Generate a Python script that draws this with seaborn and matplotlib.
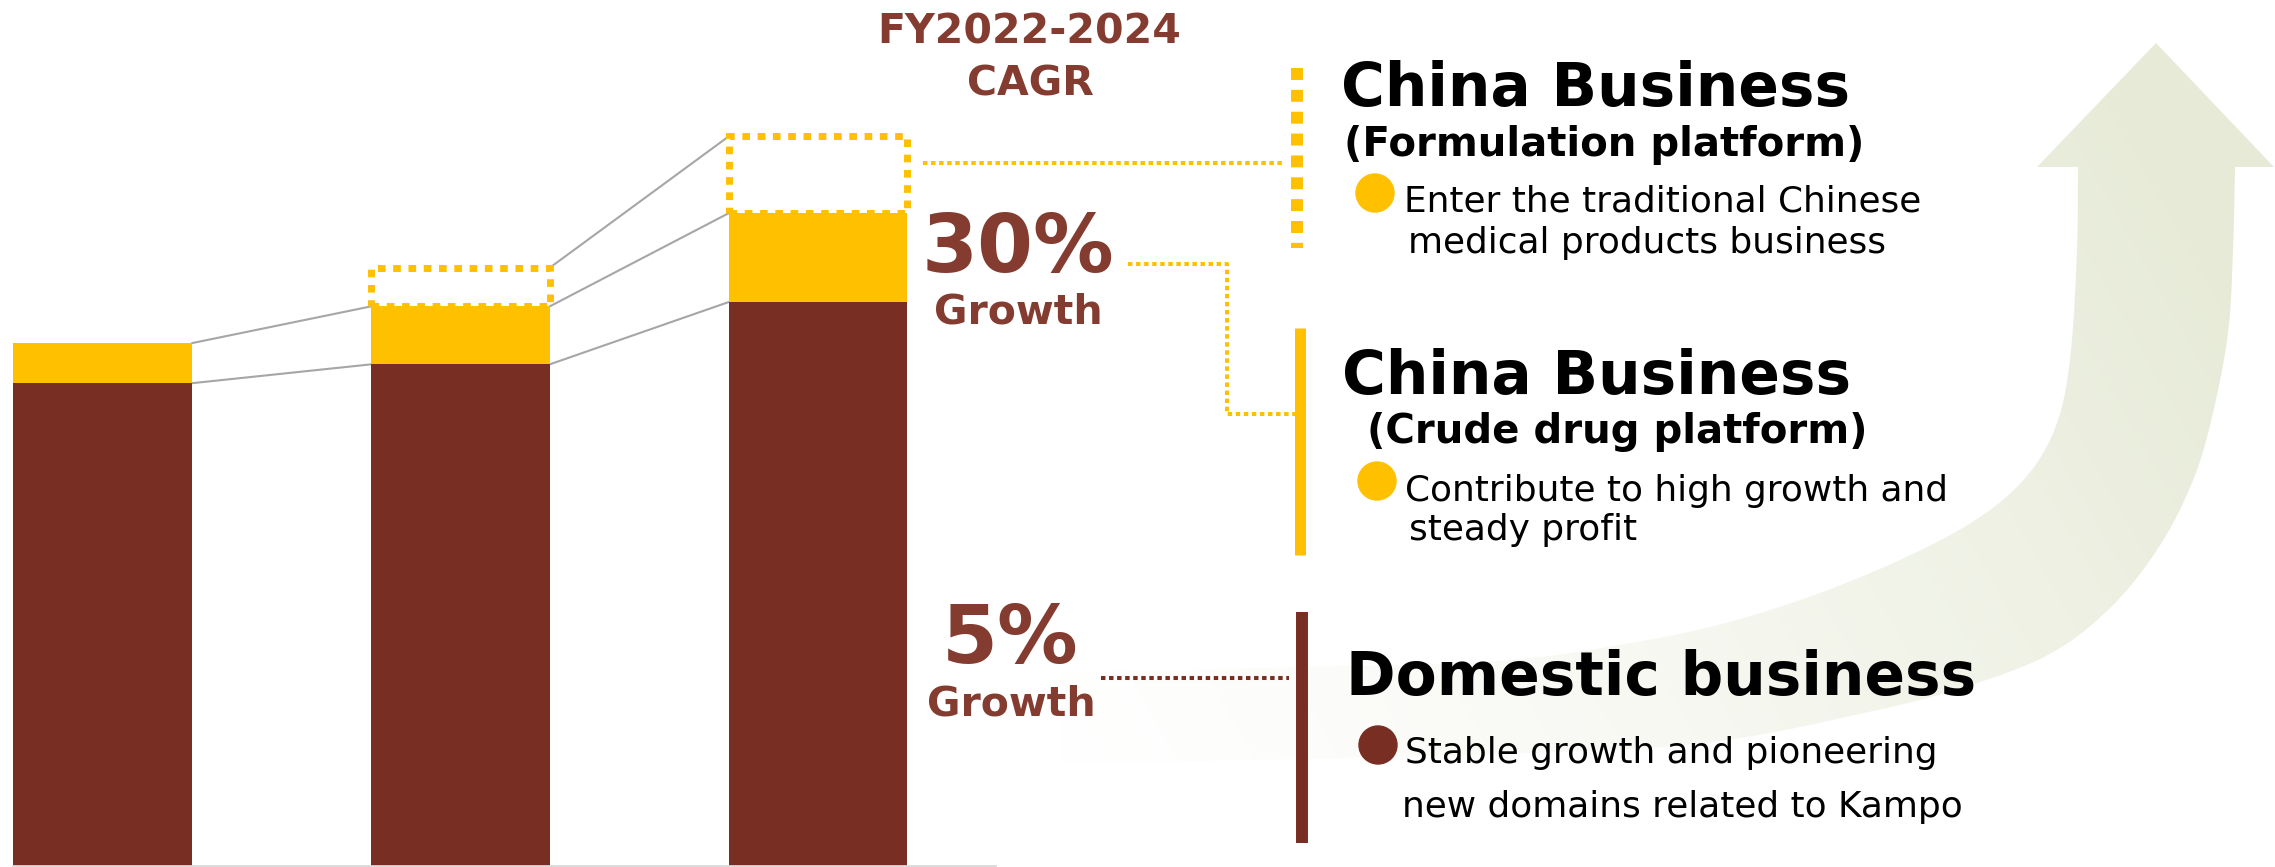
import numpy as np
import matplotlib
matplotlib.use("Agg")
import matplotlib.pyplot as plt
import seaborn as sns
from matplotlib.patches import Polygon, Circle

# ---- data -------------------------------------------------------------
years = ["FY2022", "FY2023", "FY2024"]
domestic = [100.0, 103.9, 116.8]          # domestic business
crude_drug = [8.3, 12.0, 18.4]            # China business, crude drug platform
formulation = [0.0, 8.0, 15.9]            # China business, formulation platform (planned)

cagr_title = ["FY2022-2024", "CAGR"]
cagr_china = "30%"
cagr_domestic = "5%"
growth_word = "Growth"

china_form_title = ["China Business", "(Formulation platform)"]
china_form_text = ["Enter the traditional Chinese", "medical products business"]
china_crude_title = ["China Business", "(Crude drug platform)"]
china_crude_text = ["Contribute to high growth and", "steady profit"]
domestic_title = "Domestic business"
domestic_text = ["Stable growth and pioneering", "new domains related to Kampo"]

# ---- style ------------------------------------------------------------
BROWN = "#782E22"
TEXT_BROWN = "#843C30"
YELLOW = "#FFC000"
GRAY = "#A6A6A6"
BASE = "#D9D9D9"

sns.set_theme(style="white")
plt.rcParams["font.family"] = ["DejaVu Sans"]

W, H = 2275, 867
fig = plt.figure(figsize=(W / 100, H / 100), dpi=100)
fig.patch.set_facecolor("white")


def smooth(pts, n=16):
    """Catmull-Rom curve through the given outline points."""
    P = np.array(pts, float)
    P = np.vstack([2 * P[0] - P[1], P, 2 * P[-1] - P[-2]])
    out = []
    for i in range(1, len(P) - 2):
        p0, p1, p2, p3 = P[i - 1], P[i], P[i + 1], P[i + 2]
        for s in np.linspace(0, 1, n, endpoint=False):
            out.append(0.5 * (2 * p1 + (-p0 + p2) * s
                              + (2 * p0 - 5 * p1 + 4 * p2 - p3) * s ** 2
                              + (-p0 + 3 * p1 - 3 * p2 + p3) * s ** 3))
    out.append(P[-2])
    return [tuple(p) for p in out]


# ---- background: rising arrow with fading gradient -------------------
ax_bg = fig.add_axes([0, 0, 1, 1], zorder=0)
outer = [(2235, 167), (2233, 250), (2228, 333), (2212, 417), (2192, 483),
         (2157, 550), (2108, 610), (2044, 657), (1945, 693), (1846, 717),
         (1747, 737), (1648, 748), (1500, 754), (1300, 759), (1060, 764)]
inner = [(1060, 672), (1300, 667), (1500, 661), (1648, 640),
         (1747, 617), (1846, 583), (1935, 543), (1994, 507), (2034, 467),
         (2059, 417), (2071, 350), (2077, 250), (2078, 167)]
arrow_pts = [(2037, 167), (2156, 43), (2274, 167)] + smooth(outer) + smooth(inner)

yy, xx = np.mgrid[0:H, 0:W]
ax0, ay0, bx0, by0 = 2250, 60, 1080, 720
dx, dy = bx0 - ax0, by0 - ay0
t = ((xx - ax0) * dx + (yy - ay0) * dy) / (dx * dx + dy * dy)
alpha = np.clip(1.08 - t, 0, 1) ** 1.45
img = np.zeros((H, W, 4))
img[..., :3] = np.array([230, 234, 214]) / 255
img[..., 3] = alpha
im = ax_bg.imshow(img, extent=(0, W, H, 0), origin="upper", interpolation="bilinear")
poly = Polygon(arrow_pts, closed=True, facecolor="none", edgecolor="none")
ax_bg.add_patch(poly)
im.set_clip_path(poly)
ax_bg.set_xlim(0, W)
ax_bg.set_ylim(H, 0)
ax_bg.set_aspect("auto")
ax_bg.axis("off")

# ---- stacked bars ----------------------------------------------------
px_per_unit = 4.828
ax = fig.add_axes([0, 1 / H, 996 / W, 866 / H], zorder=1)
ax.patch.set_alpha(0)

totals = [d + c for d, c in zip(domestic, crude_drug)]
sns.barplot(x=years, y=totals, color=YELLOW, saturation=1, width=0.5,
            linewidth=0, ax=ax, zorder=2)
sns.barplot(x=years, y=domestic, color=BROWN, saturation=1, width=0.5,
            linewidth=0, ax=ax, zorder=2)

# planned formulation business as dashed outline on top
for i, f in enumerate(formulation):
    if f > 0:
        ax.bar(i, f, bottom=totals[i], width=0.5, fill=False, edgecolor=YELLOW,
               linewidth=5, linestyle=(0, (1.1, 1.1)), zorder=3)

# connector lines between adjacent bars
for i in range(len(years) - 1):
    ax.plot([i + 0.25, i + 0.75], [domestic[i], domestic[i + 1]], color=GRAY, lw=1.5, zorder=1)
    ax.plot([i + 0.25, i + 0.75], [totals[i], totals[i + 1]], color=GRAY, lw=1.5, zorder=1)
    if formulation[i] > 0:
        ax.plot([i + 0.25, i + 0.75],
                [totals[i] + formulation[i], totals[i + 1] + formulation[i + 1]],
                color=GRAY, lw=1.5, zorder=1)

ax.set_xlim(-102.5 / 357.75, (996 - 102.5) / 357.75)
ax.set_ylim(0, 866 / px_per_unit)
for side in ["top", "right", "left"]:
    ax.spines[side].set_visible(False)
ax.spines["bottom"].set_color(BASE)
ax.spines["bottom"].set_linewidth(1.3)
ax.spines["bottom"].set_bounds(-0.25, (996 - 102.5) / 357.75)
ax.tick_params(length=0, labelbottom=False, labelleft=False)
ax.set_xlabel("")
ax.set_ylabel("")

# ---- annotations -----------------------------------------------------
an = fig.add_axes([0, 0, 1, 1], zorder=3)
an.patch.set_alpha(0)
an.set_xlim(0, W)
an.set_ylim(H, 0)
an.axis("off")

an.text(1029, 43, cagr_title[0], ha="center", va="baseline", fontsize=29.5,
        fontweight="bold", color=TEXT_BROWN)
an.text(1030, 95, cagr_title[1], ha="center", va="baseline", fontsize=29.5,
        fontweight="bold", color=TEXT_BROWN)
an.text(1018, 272, cagr_china, ha="center", va="baseline", fontsize=58,
        fontweight="bold", color=TEXT_BROWN)
an.text(1018, 323, growth_word, ha="center", va="baseline", fontsize=29.5,
        fontweight="bold", color=TEXT_BROWN)
an.text(1010, 663, cagr_domestic, ha="center", va="baseline", fontsize=58,
        fontweight="bold", color=TEXT_BROWN)
an.text(1011, 715, growth_word, ha="center", va="baseline", fontsize=29.5,
        fontweight="bold", color=TEXT_BROWN)

dot_small = (0, (1.1, 0.9))
# formulation platform leaders
an.plot([923, 1285], [163, 163], color=YELLOW, lw=2.9, ls=dot_small)
an.plot([1297, 1297], [68, 248], color=YELLOW, lw=8.6, ls=(0, (1.0, 0.83)),
        solid_capstyle="butt", dash_capstyle="butt")
# crude drug platform leader
an.plot([1128, 1227, 1227, 1295], [264, 264, 414, 414], color=YELLOW, lw=2.9, ls=dot_small)
an.plot([1299.5, 1299.5], [328, 555], color=YELLOW, lw=7.9, solid_capstyle="butt")
# domestic leader
an.plot([1101, 1289], [678, 678], color=BROWN, lw=2.9, ls=dot_small)
an.plot([1301.5, 1301.5], [612, 843], color=BROWN, lw=8.6, solid_capstyle="butt")

# right-hand descriptions
an.text(1341, 106, china_form_title[0], ha="left", va="baseline", fontsize=43,
        fontweight="bold", color="black")
an.text(1344, 156, china_form_title[1], ha="left", va="baseline", fontsize=29,
        fontweight="bold", color="black")
an.add_patch(Circle((1375, 193), 19, color=YELLOW))
an.text(1404, 212, china_form_text[0], ha="left", va="baseline", fontsize=25.8, color="black")
an.text(1408, 253, china_form_text[1], ha="left", va="baseline", fontsize=25.8, color="black")

an.text(1342, 394, china_crude_title[0], ha="left", va="baseline", fontsize=43,
        fontweight="bold", color="black")
an.text(1367, 443, china_crude_title[1], ha="left", va="baseline", fontsize=29,
        fontweight="bold", color="black")
an.add_patch(Circle((1377, 481), 19, color=YELLOW))
an.text(1405, 501, china_crude_text[0], ha="left", va="baseline", fontsize=25.8, color="black")
an.text(1409, 540, china_crude_text[1], ha="left", va="baseline", fontsize=25.8, color="black")

an.text(1346, 695, domestic_title, ha="left", va="baseline", fontsize=43,
        fontweight="bold", color="black")
an.add_patch(Circle((1378, 745), 19, color=BROWN))
an.text(1405, 763, domestic_text[0], ha="left", va="baseline", fontsize=25.8, color="black")
an.text(1402, 817, domestic_text[1], ha="left", va="baseline", fontsize=25.8, color="black")

fig.savefig("out.png", dpi=100, facecolor="white")
